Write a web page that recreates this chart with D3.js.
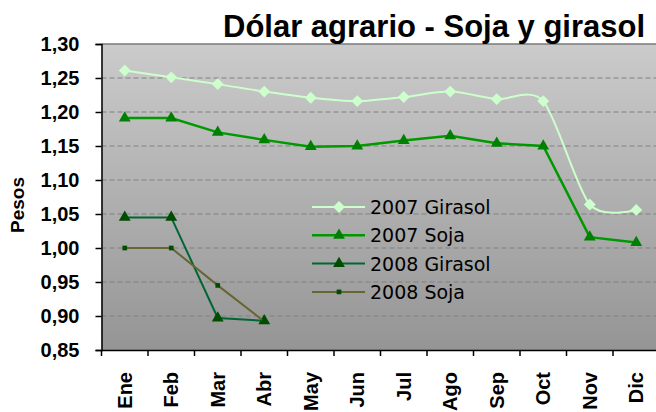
<!DOCTYPE html>
<html>
<head>
<meta charset="utf-8">
<script src="https://cdn.jsdelivr.net/npm/d3@7"></script>
<style>
  body { margin: 0; background: #fff; }
  svg { display: block; }
</style>
</head>
<body>
<div id="app"></div>
<script>
// data
const months = ["Ene", "Feb", "Mar", "Abr", "May", "Jun", "Jul", "Ago", "Sep", "Oct", "Nov", "Dic"]
const girasol2007 = [1.261, 1.251, 1.241, 1.230, 1.221, 1.216, 1.222, 1.230, 1.219, 1.216, 1.064, 1.056]
const soja2007 = [1.191, 1.191, 1.170, 1.159, 1.149, 1.150, 1.158, 1.165, 1.154, 1.150, 1.016, 1.008]
const girasol2008 = [1.045, 1.045, 0.897, 0.893]
const soja2008 = [1.000, 1.000, 0.945, 0.892]
const yTicks = [0.85, 0.90, 0.95, 1.00, 1.05, 1.10, 1.15, 1.20, 1.25, 1.30]

const series = [
  { name: "2007 Girasol", values: girasol2007, line: "#ccffcc", mark: "#ccffcc", shape: "diamond", smooth: true, lw: 2 },
  { name: "2007 Soja", values: soja2007, line: "#009900", mark: "#008000", shape: "triangle", smooth: false, lw: 2.5 },
  { name: "2008 Girasol", values: girasol2008, line: "#006633", mark: "#004d00", shape: "triangle", smooth: false, lw: 2 },
  { name: "2008 Soja", values: soja2008, line: "#666633", mark: "#004d00", shape: "square", smooth: false, lw: 2 }
]

const width = 656, height = 412
const plotLeft = 101.5, plotTop = 44, plotBottom = 350
const band = 46.5

const svg = d3.select("#app").append("svg")
  .attr("width", width)
  .attr("height", height)

const defs = svg.append("defs")
const grad = defs.append("linearGradient")
  .attr("id", "bg").attr("x1", 0).attr("y1", 0).attr("x2", 0).attr("y2", 1)
grad.append("stop").attr("offset", "0%").attr("stop-color", "#cbcbcb")
grad.append("stop").attr("offset", "100%").attr("stop-color", "#959595")

const x = d3.scaleBand().domain(months).range([plotLeft, plotLeft + band * 12])
const y = d3.scaleLinear().domain([0.85, 1.30]).range([plotBottom, plotTop])
const cx = i => x(months[i]) + x.bandwidth() / 2

// plot area
svg.append("rect")
  .attr("x", plotLeft).attr("y", plotTop)
  .attr("width", width - plotLeft).attr("height", plotBottom - plotTop)
  .attr("fill", "url(#bg)")
svg.append("line")
  .attr("x1", plotLeft).attr("x2", width)
  .attr("y1", plotTop).attr("y2", plotTop)
  .attr("stroke", "#7a7a7a").attr("stroke-width", 1.5)

// dashed grid
svg.append("g").selectAll("line")
  .data(yTicks.filter(d => d > 0.86 && d < 1.29))
  .enter().append("line")
  .attr("x1", plotLeft).attr("x2", width)
  .attr("y1", d => y(d)).attr("y2", d => y(d))
  .attr("stroke", "#808080")
  .attr("stroke-width", 1.2)
  .attr("stroke-dasharray", "5,3")

// axes
const yAxis = svg.append("g")
  .attr("transform", `translate(${plotLeft},0)`)
  .call(d3.axisLeft(y).tickValues(yTicks).tickSize(6).tickPadding(16)
    .tickFormat(d => d3.format(".2f")(d).replace(".", ",")))
yAxis.select(".domain").attr("stroke", "#000").attr("stroke-width", 1.5)
yAxis.selectAll(".tick line").attr("stroke", "#000").attr("stroke-width", 1.5)
yAxis.selectAll("text")
  .attr("font-family", "Liberation Sans, Arial, sans-serif")
  .attr("font-size", 20).attr("font-weight", "bold").attr("fill", "#000")

const xAxis = svg.append("g")
  .attr("transform", `translate(0,${plotBottom})`)
  .call(d3.axisBottom(x).tickSize(0).tickFormat(""))
xAxis.select(".domain").attr("stroke", "#000").attr("stroke-width", 1.5)
xAxis.selectAll(".tick").remove()

// ticks between the categories
svg.append("g").selectAll("line")
  .data(d3.range(13))
  .enter().append("line")
  .attr("x1", i => plotLeft + i * band).attr("x2", i => plotLeft + i * band)
  .attr("y1", plotBottom).attr("y2", plotBottom + 6)
  .attr("stroke", "#000").attr("stroke-width", 1.5)

svg.append("g").selectAll("text")
  .data(months)
  .enter().append("text")
  .attr("transform", (d, i) => `translate(${cx(i) + 7},372) rotate(-90)`)
  .attr("text-anchor", "end")
  .attr("font-family", "Liberation Sans, Arial, sans-serif")
  .attr("font-size", 20).attr("font-weight", "bold")
  .text(d => d)

svg.append("text")
  .attr("transform", "translate(24,205) rotate(-90)")
  .attr("text-anchor", "middle")
  .attr("font-family", "Liberation Sans, Arial, sans-serif")
  .attr("font-size", 19).attr("font-weight", "bold")
  .text("Pesos")

svg.append("text")
  .attr("x", 223).attr("y", 37)
  .attr("font-family", "Liberation Sans, Arial, sans-serif")
  .attr("font-size", 31).attr("font-weight", "bold")
  .text("Dólar agrario - Soja y girasol")

// markers
const symbolFor = s => {
  if (s.shape == "diamond") return d3.symbol().type(d3.symbolDiamond2).size(90)()
  if (s.shape == "triangle") return d3.symbol().type(d3.symbolTriangle2).size(100)()
  return d3.symbol().type(d3.symbolSquare2).size(28)()
}

// legend first so the series sit on top of it
const legend = svg.append("g")
series.forEach((s, i) => {
  const ly = 207 + i * 28.3
  legend.append("line")
    .attr("x1", 312).attr("x2", 365)
    .attr("y1", ly).attr("y2", ly)
    .attr("stroke", s.line).attr("stroke-width", s.lw)
  legend.append("path")
    .attr("d", symbolFor(s))
    .attr("transform", `translate(339,${ly})`)
    .attr("fill", s.mark)
  legend.append("text")
    .attr("x", 370).attr("y", ly + 7)
    .attr("font-family", "DejaVu Sans, Verdana, sans-serif")
    .attr("font-size", 19)
    .text(s.name)
})

series.forEach(s => {
  const line = d3.line()
    .x((d, i) => cx(i))
    .y(d => y(d))
    .curve(s.smooth ? d3.curveCardinal.tension(0.2) : d3.curveLinear)
  svg.append("path")
    .datum(s.values)
    .attr("d", line)
    .attr("fill", "none")
    .attr("stroke", s.line)
    .attr("stroke-width", s.lw)

  svg.append("g").selectAll("path")
    .data(s.values)
    .enter().append("path")
    .attr("d", symbolFor(s))
    .attr("transform", (d, i) => `translate(${cx(i)},${y(d)})`)
    .attr("fill", s.mark)
})
</script>
</body>
</html>
